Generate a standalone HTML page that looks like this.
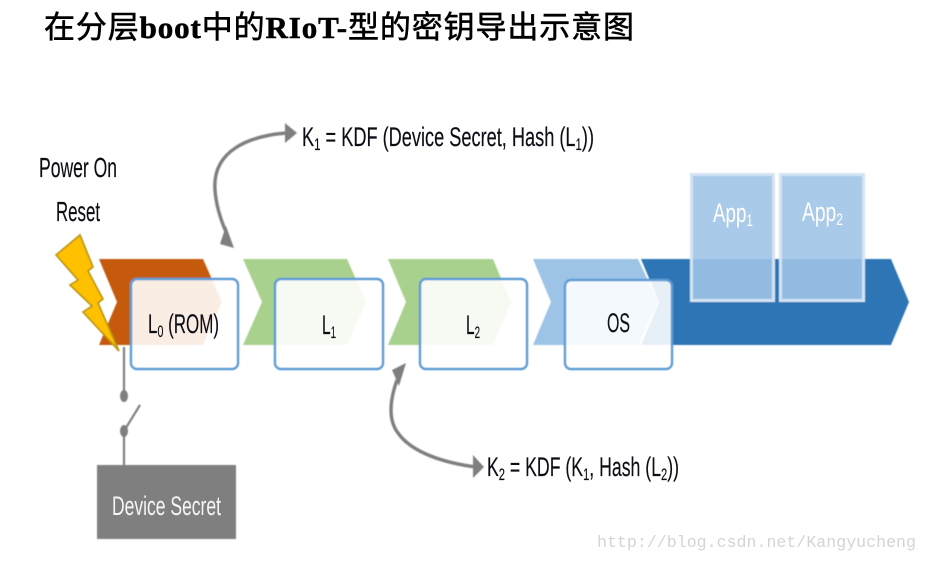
<!DOCTYPE html>
<html>
<head>
<meta charset="utf-8">
<style>
html,body{margin:0;padding:0;background:#fff;width:927px;height:561px;overflow:hidden}
svg{display:block}
.t{font-family:"Liberation Sans",sans-serif;font-size:27px;fill:#0c0c14;stroke:#0c0c14;stroke-width:0.15}
</style>
</head>
<body>
<svg width="927" height="561" viewBox="0 0 927 561" xmlns="http://www.w3.org/2000/svg">
<defs><filter id="b" x="-5%" y="-5%" width="110%" height="110%"><feGaussianBlur stdDeviation="0.45"/></filter>
<filter id="c" x="-5%" y="-5%" width="110%" height="110%"><feGaussianBlur stdDeviation="0.25"/></filter></defs>
<rect width="927" height="561" fill="#fff"/>

<text x="44" y="38" font-size="31" textLength="590" lengthAdjust="spacing" fill="#000" stroke="#000" stroke-width="0.55" font-family="'Liberation Serif','Noto Sans CJK SC',sans-serif">在分层<tspan font-weight="bold" font-family="'Liberation Serif',serif">boot</tspan>中的<tspan font-weight="bold" font-family="'Liberation Serif',serif">RIoT-</tspan>型的密钥导出示意图</text>

<g filter="url(#b)">
<polygon points="99,259 203,259 222,302 203,345 99,345 117,302" fill="#c55a11"/>
<polygon points="243,259 347,259 366,302 347,345 243,345 262,302" fill="#a9d18e"/>
<polygon points="388,259 493,259 511,302 493,345 388,345 406,302" fill="#a9d18e"/>
<polygon points="641,259 891,259 909,302 891,345 641,345 659,302" fill="#2e75b6"/>
<polygon points="533,259 638,259 658,302 638,345 533,345 551,302" fill="#9dc3e6"/>

<g fill="#ffffff" fill-opacity="0.89" stroke="#5b9bd5" stroke-width="2.4">
<rect x="131" y="279" width="107" height="90" rx="6"/>
<rect x="275" y="279" width="108" height="90" rx="6"/>
<rect x="420" y="279" width="107" height="90" rx="6"/>
<rect x="565" y="280" width="107" height="89" rx="6"/>
</g>

<g fill="#9ec3e6" fill-opacity="0.89" stroke="#d3e3f3" stroke-width="3">
<rect x="691.5" y="174.5" width="82" height="126"/>
<rect x="780.5" y="174.5" width="83" height="126"/>
</g>

<polygon points="56,255 80,235 93,267 88,271 103,299 98,303 119,351 83,312 92,306 70,285 78,280" fill="#ffc000" stroke="#b8930f" stroke-width="1.6" stroke-linejoin="miter"/>

<g stroke="#7f7f7f" stroke-width="2.2" fill="none">
<line x1="124" y1="347" x2="124" y2="396"/>
<line x1="124" y1="431" x2="140" y2="405"/>
<line x1="124" y1="431" x2="124" y2="466"/>
</g>
<ellipse cx="124" cy="396" rx="4" ry="6" fill="#7f7f7f"/>
<ellipse cx="124" cy="431" rx="4" ry="6" fill="#7f7f7f"/>
<rect x="97" y="465" width="139" height="74" fill="#7f7f7f"/>

<g fill="none" stroke="#7f7f7f" stroke-width="3.4">
<path d="M286,133 C250,136 212,150 215,190 C216,205 220,218 226,232"/>
<path d="M397,380 C390,400 388,420 398,433 C412,453 445,463 476,467"/>
</g>
<polygon points="297,133 285,123 285,143" fill="#7f7f7f"/>
<polygon points="220,244 234,248 226,226" fill="#7f7f7f"/>
<polygon points="484,467 473,455 473,478" fill="#7f7f7f"/>
<polygon points="406,363 392,370 399,386" fill="#7f7f7f"/>
</g>

<g filter="url(#c)">
<text class="t" x="39" y="177" textLength="78" lengthAdjust="spacingAndGlyphs" style="font-size:28px">Power On</text>
<text class="t" x="56" y="221" textLength="44" lengthAdjust="spacingAndGlyphs" style="font-size:28px">Reset</text>

<text class="t" x="302" y="146" textLength="292" lengthAdjust="spacingAndGlyphs">K<tspan font-size="17" dy="4">1</tspan><tspan dy="-4"> = KDF (Device Secret, Hash (L</tspan><tspan font-size="17" dy="4">1</tspan><tspan dy="-4">))</tspan></text>
<text class="t" x="487" y="476" textLength="192" lengthAdjust="spacingAndGlyphs">K<tspan font-size="17" dy="4">2</tspan><tspan dy="-4"> = KDF (K</tspan><tspan font-size="17" dy="4">1</tspan><tspan dy="-4">, Hash (L</tspan><tspan font-size="17" dy="4">2</tspan><tspan dy="-4">))</tspan></text>

<text class="t" x="148" y="333" textLength="71" lengthAdjust="spacingAndGlyphs">L<tspan font-size="17" dy="4">0</tspan><tspan dy="-4"> (ROM)</tspan></text>
<text class="t" x="322" y="334" textLength="14" lengthAdjust="spacingAndGlyphs">L<tspan font-size="17" dy="4">1</tspan></text>
<text class="t" x="466" y="334" textLength="14" lengthAdjust="spacingAndGlyphs">L<tspan font-size="17" dy="4">2</tspan></text>
<text class="t" x="607" y="332" textLength="23" lengthAdjust="spacingAndGlyphs">OS</text>

<text x="713" y="222" font-family="'Liberation Sans',sans-serif" font-size="27" textLength="40" lengthAdjust="spacingAndGlyphs" fill="#fff">App<tspan font-size="17" dy="4">1</tspan></text>
<text x="802" y="221" font-family="'Liberation Sans',sans-serif" font-size="27" textLength="41" lengthAdjust="spacingAndGlyphs" fill="#fff">App<tspan font-size="17" dy="4">2</tspan></text>
<text x="112" y="515" font-family="'Liberation Sans',sans-serif" font-size="27" textLength="109" lengthAdjust="spacingAndGlyphs" fill="#f5f5f5">Device Secret</text>
</g>

<text x="597" y="547" font-family="'Liberation Mono',monospace" font-size="16.6" fill="#d4d4d0" textLength="319" lengthAdjust="spacingAndGlyphs">http://blog.csdn.net/Kangyucheng</text>
</svg>
</body>
</html>
